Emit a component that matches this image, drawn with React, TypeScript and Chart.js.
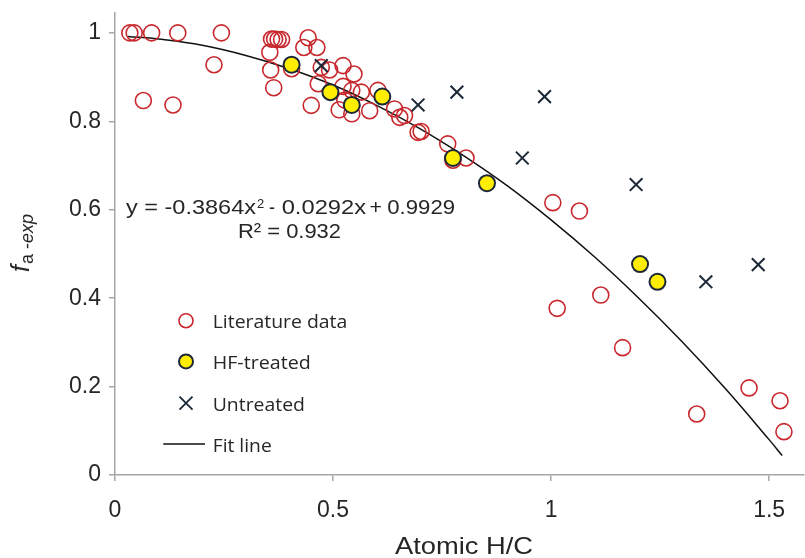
import React, { useEffect, useRef } from 'react';
import { Chart, registerables } from 'chart.js';

Chart.register(...registerables);

// Literature data (open red circles)
const litX = [0.034, 0.044, 0.084, 0.144, 0.244, 0.227, 0.065, 0.133, 0.359, 0.366, 0.374, 0.382, 0.355, 0.357, 0.364, 0.405, 0.443, 0.433, 0.463, 0.473, 0.492, 0.523, 0.548, 0.466, 0.450, 0.523, 0.543, 0.565, 0.527, 0.514, 0.543, 0.584, 0.603, 0.641, 0.653, 0.664, 0.695, 0.702, 0.763, 0.775, 0.805, 1.004, 1.065, 1.014, 1.114, 1.164, 1.334, 1.454, 1.525, 1.534];
const litY = [1.0, 1.0, 1.0, 1.0, 1.0, 0.928, 0.847, 0.837, 0.986, 0.986, 0.985, 0.985, 0.956, 0.916, 0.876, 0.919, 0.989, 0.967, 0.967, 0.922, 0.916, 0.926, 0.907, 0.885, 0.836, 0.879, 0.870, 0.866, 0.848, 0.826, 0.817, 0.824, 0.870, 0.828, 0.809, 0.813, 0.775, 0.777, 0.749, 0.712, 0.717, 0.616, 0.597, 0.377, 0.407, 0.288, 0.138, 0.197, 0.168, 0.098];

// HF-treated (yellow filled circles)
const hfX = [0.405, 0.494, 0.543, 0.613, 0.775, 0.853, 1.204, 1.244];
const hfY = [0.928, 0.866, 0.837, 0.856, 0.717, 0.660, 0.477, 0.437];

// Untreated (crosses)
const unX = [0.473, 0.695, 0.784, 0.985, 0.934, 1.195, 1.355, 1.475];
const unY = [0.926, 0.837, 0.866, 0.856, 0.717, 0.657, 0.437, 0.476];

// Fit line
const fitX = [0.03, 0.1, 0.2, 0.3, 0.4, 0.5, 0.6, 0.7, 0.8, 0.9, 1.0, 1.1, 1.2, 1.3, 1.4, 1.5, 1.53];
const fitY = [0.992, 0.986, 0.972, 0.949, 0.919, 0.882, 0.836, 0.783, 0.722, 0.654, 0.577, 0.493, 0.401, 0.302, 0.195, 0.080, 0.044];

const xTicks = [0, 0.5, 1, 1.5];
const xTickLabels = ['0', '0.5', '1', '1.5'];
const yTicks = [0, 0.2, 0.4, 0.6, 0.8, 1];
const yTickLabels = ['0', '0.2', '0.4', '0.6', '0.8', '1'];

const legendLabels = ['Literature data', 'HF-treated', 'Untreated', 'Fit line'];
const equationParts = ['y = -0.3864x', '2', '-', '0.0292x', '+', '0.9929'];
const r2Text = 'R² = 0.932';
const xTitle = 'Atomic H/C';

const RED = '#c8282d';
const YELLOW = '#ffee00';
const DARK = '#1c2836';
const TEXT = '#262626';
const AXIS = '#a6a6a6';
const FONT = '"Liberation Sans", Arial, sans-serif';
const LFONT = '"Open Sans", sans-serif';

function fitText(ctx: CanvasRenderingContext2D, s: string, x0: number, x1: number, y: number, font: string) {
  ctx.save();
  ctx.font = font;
  ctx.textAlign = 'left';
  ctx.textBaseline = 'alphabetic';
  ctx.fillStyle = TEXT;
  const w = ctx.measureText(s).width;
  const sx = (x1 - x0) / w;
  ctx.translate(x0, y);
  ctx.scale(sx, 1);
  ctx.fillText(s, 0, 0);
  ctx.restore();
}

const annotPlugin = {
  id: 'annot',
  afterDraw(chart: any) {
    const ctx: CanvasRenderingContext2D = chart.ctx;
    ctx.save();
    // equation
    const ef = `21px ${FONT}`;
    fitText(ctx, equationParts[0], 126, 256, 214, ef);
    ctx.font = `13px ${FONT}`;
    ctx.fillStyle = TEXT;
    ctx.fillText(equationParts[1], 257, 208);
    fitText(ctx, equationParts[2], 269, 275, 214, ef);
    fitText(ctx, equationParts[3], 281.7, 366, 214, ef);
    fitText(ctx, equationParts[4], 369.5, 382, 214, ef);
    fitText(ctx, equationParts[5], 387.3, 455, 214, ef);
    fitText(ctx, r2Text, 238, 341, 237.7, ef);

    // legend
    const mx = 186;
    const tx = 212.7;
    const bases = [328.3, 369, 410.7, 451.7];
    const ends = [347.3, 310.7, 305, 271.7];
    ctx.lineWidth = 1.6;
    ctx.strokeStyle = RED;
    ctx.beginPath();
    ctx.arc(mx, bases[0] - 7.6, 7, 0, Math.PI * 2);
    ctx.stroke();
    ctx.fillStyle = YELLOW;
    ctx.strokeStyle = DARK;
    ctx.lineWidth = 2;
    ctx.beginPath();
    ctx.arc(mx, bases[1] - 7.6, 7, 0, Math.PI * 2);
    ctx.fill();
    ctx.stroke();
    const cy = bases[2] - 7.6;
    ctx.lineWidth = 1.8;
    ctx.beginPath();
    ctx.moveTo(mx - 6.5, cy - 6.5);
    ctx.lineTo(mx + 6.5, cy + 6.5);
    ctx.moveTo(mx + 6.5, cy - 6.5);
    ctx.lineTo(mx - 6.5, cy + 6.5);
    ctx.stroke();
    ctx.strokeStyle = '#111';
    ctx.lineWidth = 1.5;
    ctx.beginPath();
    ctx.moveTo(163.3, bases[3] - 7.6);
    ctx.lineTo(205, bases[3] - 7.6);
    ctx.stroke();
    legendLabels.forEach((l, i) => fitText(ctx, l, tx, ends[i], bases[i], `19px ${LFONT}`));

    // x title
    fitText(ctx, xTitle, 395, 533, 554, `24px ${FONT}`);

    // y title (rotated)
    ctx.save();
    ctx.translate(29, 272);
    ctx.rotate(-Math.PI / 2);
    ctx.fillStyle = TEXT;
    ctx.font = `italic 25px ${FONT}`;
    ctx.fillText('f', 0, 0);
    let w = ctx.measureText('f').width + 1;
    ctx.font = `18px ${FONT}`;
    ctx.fillText('a -', w, 4);
    w += ctx.measureText('a -').width;
    ctx.font = `italic 18px ${FONT}`;
    ctx.fillText('exp', w, 4);
    ctx.restore();

    ctx.restore();
  },
};

export default function App() {
  const ref = useRef<HTMLCanvasElement>(null);
  useEffect(() => {
    if (!ref.current) return;
    const chart = new Chart(ref.current, {
      type: 'scatter',
      data: {
        datasets: [
          {
            label: 'HF-treated',
            data: hfX.map((x, i) => ({ x, y: hfY[i] })),
            pointStyle: 'circle',
            pointRadius: 8,
            backgroundColor: YELLOW,
            borderColor: DARK,
            borderWidth: 2,
          },
          {
            label: 'Untreated',
            data: unX.map((x, i) => ({ x, y: unY[i] })),
            pointStyle: 'crossRot',
            pointRadius: 9,
            borderColor: DARK,
            borderWidth: 2,
          },
          {
            label: 'Literature data',
            data: litX.map((x, i) => ({ x, y: litY[i] })),
            pointStyle: 'circle',
            pointRadius: 8,
            backgroundColor: 'rgba(0,0,0,0)',
            borderColor: RED,
            borderWidth: 1.6,
          },
          {
            label: 'Fit line',
            type: 'line',
            data: fitX.map((x, i) => ({ x, y: fitY[i] })),
            showLine: true,
            pointRadius: 0,
            borderColor: '#111',
            borderWidth: 1.5,
            tension: 0.4,
            fill: false,
          } as any,
        ],
      },
      options: {
        animation: false,
        responsive: false,
        maintainAspectRatio: false,
        layout: { autoPadding: false, padding: { top: 13, right: 1, left: 0, bottom: 0 } },
        plugins: { legend: { display: false }, tooltip: { enabled: false } },
        scales: {
          x: {
            type: 'linear',
            min: 0,
            max: 1.58,
            afterBuildTicks: (s: any) => { s.ticks = xTicks.map((v) => ({ value: v })); },
            afterFit: (s: any) => { s.height = 83; s.paddingLeft = 0; s.paddingRight = 0; },
            border: { color: AXIS, width: 1.5 },
            grid: { drawOnChartArea: false, drawTicks: true, tickLength: 6, color: AXIS, lineWidth: 1.5 },
            ticks: {
              padding: 16,
              color: TEXT,
              font: { family: FONT, size: 23 },
              callback: (v: any) => { const i = xTicks.indexOf(Number(v)); return i >= 0 ? xTickLabels[i] : ''; },
            },
          },
          y: {
            type: 'linear',
            min: 0,
            max: 1.045,
            afterBuildTicks: (s: any) => { s.ticks = yTicks.map((v) => ({ value: v })); },
            afterFit: (s: any) => { s.width = 115; s.paddingTop = 0; s.paddingBottom = 0; },
            border: { color: AXIS, width: 1.5 },
            grid: { drawOnChartArea: false, drawTicks: true, tickLength: 6, color: AXIS, lineWidth: 1.5 },
            ticks: {
              padding: 8,
              color: TEXT,
              font: { family: FONT, size: 23 },
              callback: (v: any) => { const i = yTicks.indexOf(Number(v)); return i >= 0 ? yTickLabels[i] : ''; },
            },
          },
        },
      },
      plugins: [annotPlugin],
    });
    return () => chart.destroy();
  }, []);
  return (
    <div style={{ position: 'fixed', left: 0, top: 0, width: 805, height: 558, background: '#fff' }}>
      <canvas ref={ref} width={805} height={558} style={{ width: 805, height: 558, display: 'block' }} />
    </div>
  );
}
